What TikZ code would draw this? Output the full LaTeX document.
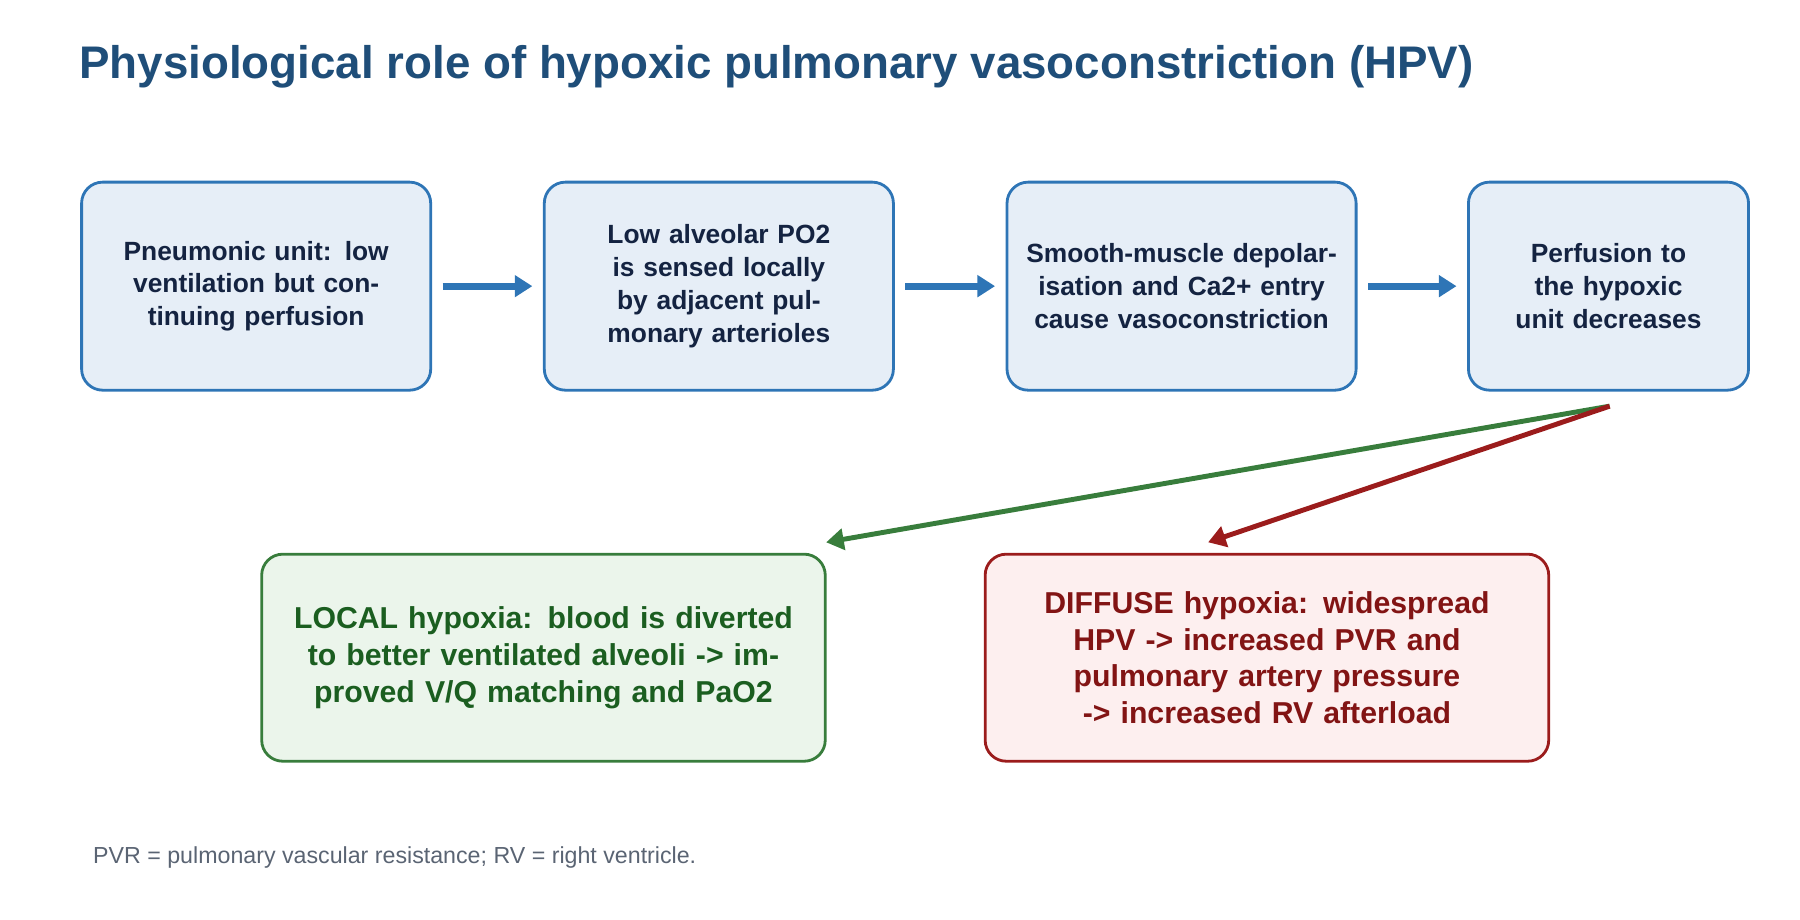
\documentclass[tikz,border=0pt]{standalone}
\usepackage{fontspec}
\setmainfont{Liberation Sans}
\usetikzlibrary{arrows.meta,positioning}
\definecolor{titlecol}{RGB}{31,78,121}
\definecolor{stepfill}{RGB}{230,238,247}
\definecolor{stepdraw}{RGB}{46,117,182}
\definecolor{steptext}{RGB}{20,35,65}
\definecolor{localfill}{RGB}{235,245,235}
\definecolor{localdraw}{RGB}{56,125,60}
\definecolor{localtext}{RGB}{27,94,32}
\definecolor{diffill}{RGB}{253,239,239}
\definecolor{difdraw}{RGB}{155,28,28}
\definecolor{diftext}{RGB}{130,20,20}
\definecolor{notecol}{RGB}{90,100,115}
\tikzstyle{stage}=[draw=stepdraw, fill=stepfill, text=steptext, rounded corners=6pt, line width=0.8pt, align=center, font=\bfseries\fontsize{7.5}{9.3}\selectfont, minimum height=2.08cm]
\tikzstyle{result}=[rounded corners=6pt, line width=0.8pt, align=center, font=\bfseries\fontsize{8.6}{10.4}\selectfont, minimum width=5.58cm, text width=5.4cm, minimum height=2.07cm]
\tikzstyle{flow}=[-{Triangle[length=5pt,width=6pt]}, stepdraw, line width=2pt]
\begin{document}
\begin{tikzpicture}[x=0.01154cm,y=-0.01154cm]
  \useasboundingbox (0,0) rectangle (1560,797);
  \node [anchor=west, text=titlecol, font=\bfseries\fontsize{13}{15}\selectfont] (title) at (58,58) {Physiological role of hypoxic pulmonary vasoconstriction (HPV)};
  \node [stage, minimum width=3.49cm, text width=3.2cm] (a) at (222,248) {Pneumonic unit: low ventilation but continuing perfusion};
  \node [stage, minimum width=3.49cm, text width=3.2cm] (b) at (623,248) {Low alveolar PO2 is sensed locally by adjacent pulmonary arterioles};
  \node [stage, minimum width=3.49cm, text width=3.2cm] (c) at (1024,248) {Smooth-muscle depolarisation and Ca2+ entry cause vasoconstriction};
  \node [stage, minimum width=2.8cm, text width=2.5cm] (d) at (1394,248) {Perfusion to the hypoxic unit decreases};
  \node [result, draw=localdraw, fill=localfill, text=localtext] (e) at (471,570) {LOCAL hypoxia: blood is diverted to better ventilated alveoli -> improved V/Q matching and PaO2};
  \node [result, draw=difdraw, fill=diffill, text=diftext] (f) at (1098,570) {DIFFUSE hypoxia: widespread HPV -> increased PVR and pulmonary artery pressure -> increased RV afterload};
  \node [anchor=west, text=notecol, font=\fontsize{6.6}{8}\selectfont] (note) at (70,743) {PVR = pulmonary vascular resistance; RV = right ventricle.};
  \coordinate (split) at (1395,352);
  \coordinate (lend) at (716,470);
  \coordinate (rend) at (1047,470);
  \draw [flow] ([xshift=3pt]a.east) -- ([xshift=-3pt]b.west);
  \draw [flow] ([xshift=3pt]b.east) -- ([xshift=-3pt]c.west);
  \draw [flow] ([xshift=3pt]c.east) -- ([xshift=-3pt]d.west);
  \draw [-{Triangle[length=5pt,width=6pt]}, localdraw, line width=1.4pt] (split) -- (lend);
  \draw [-{Triangle[length=5pt,width=6pt]}, difdraw, line width=1.4pt] (split) -- (rend);
\end{tikzpicture}
\end{document}
